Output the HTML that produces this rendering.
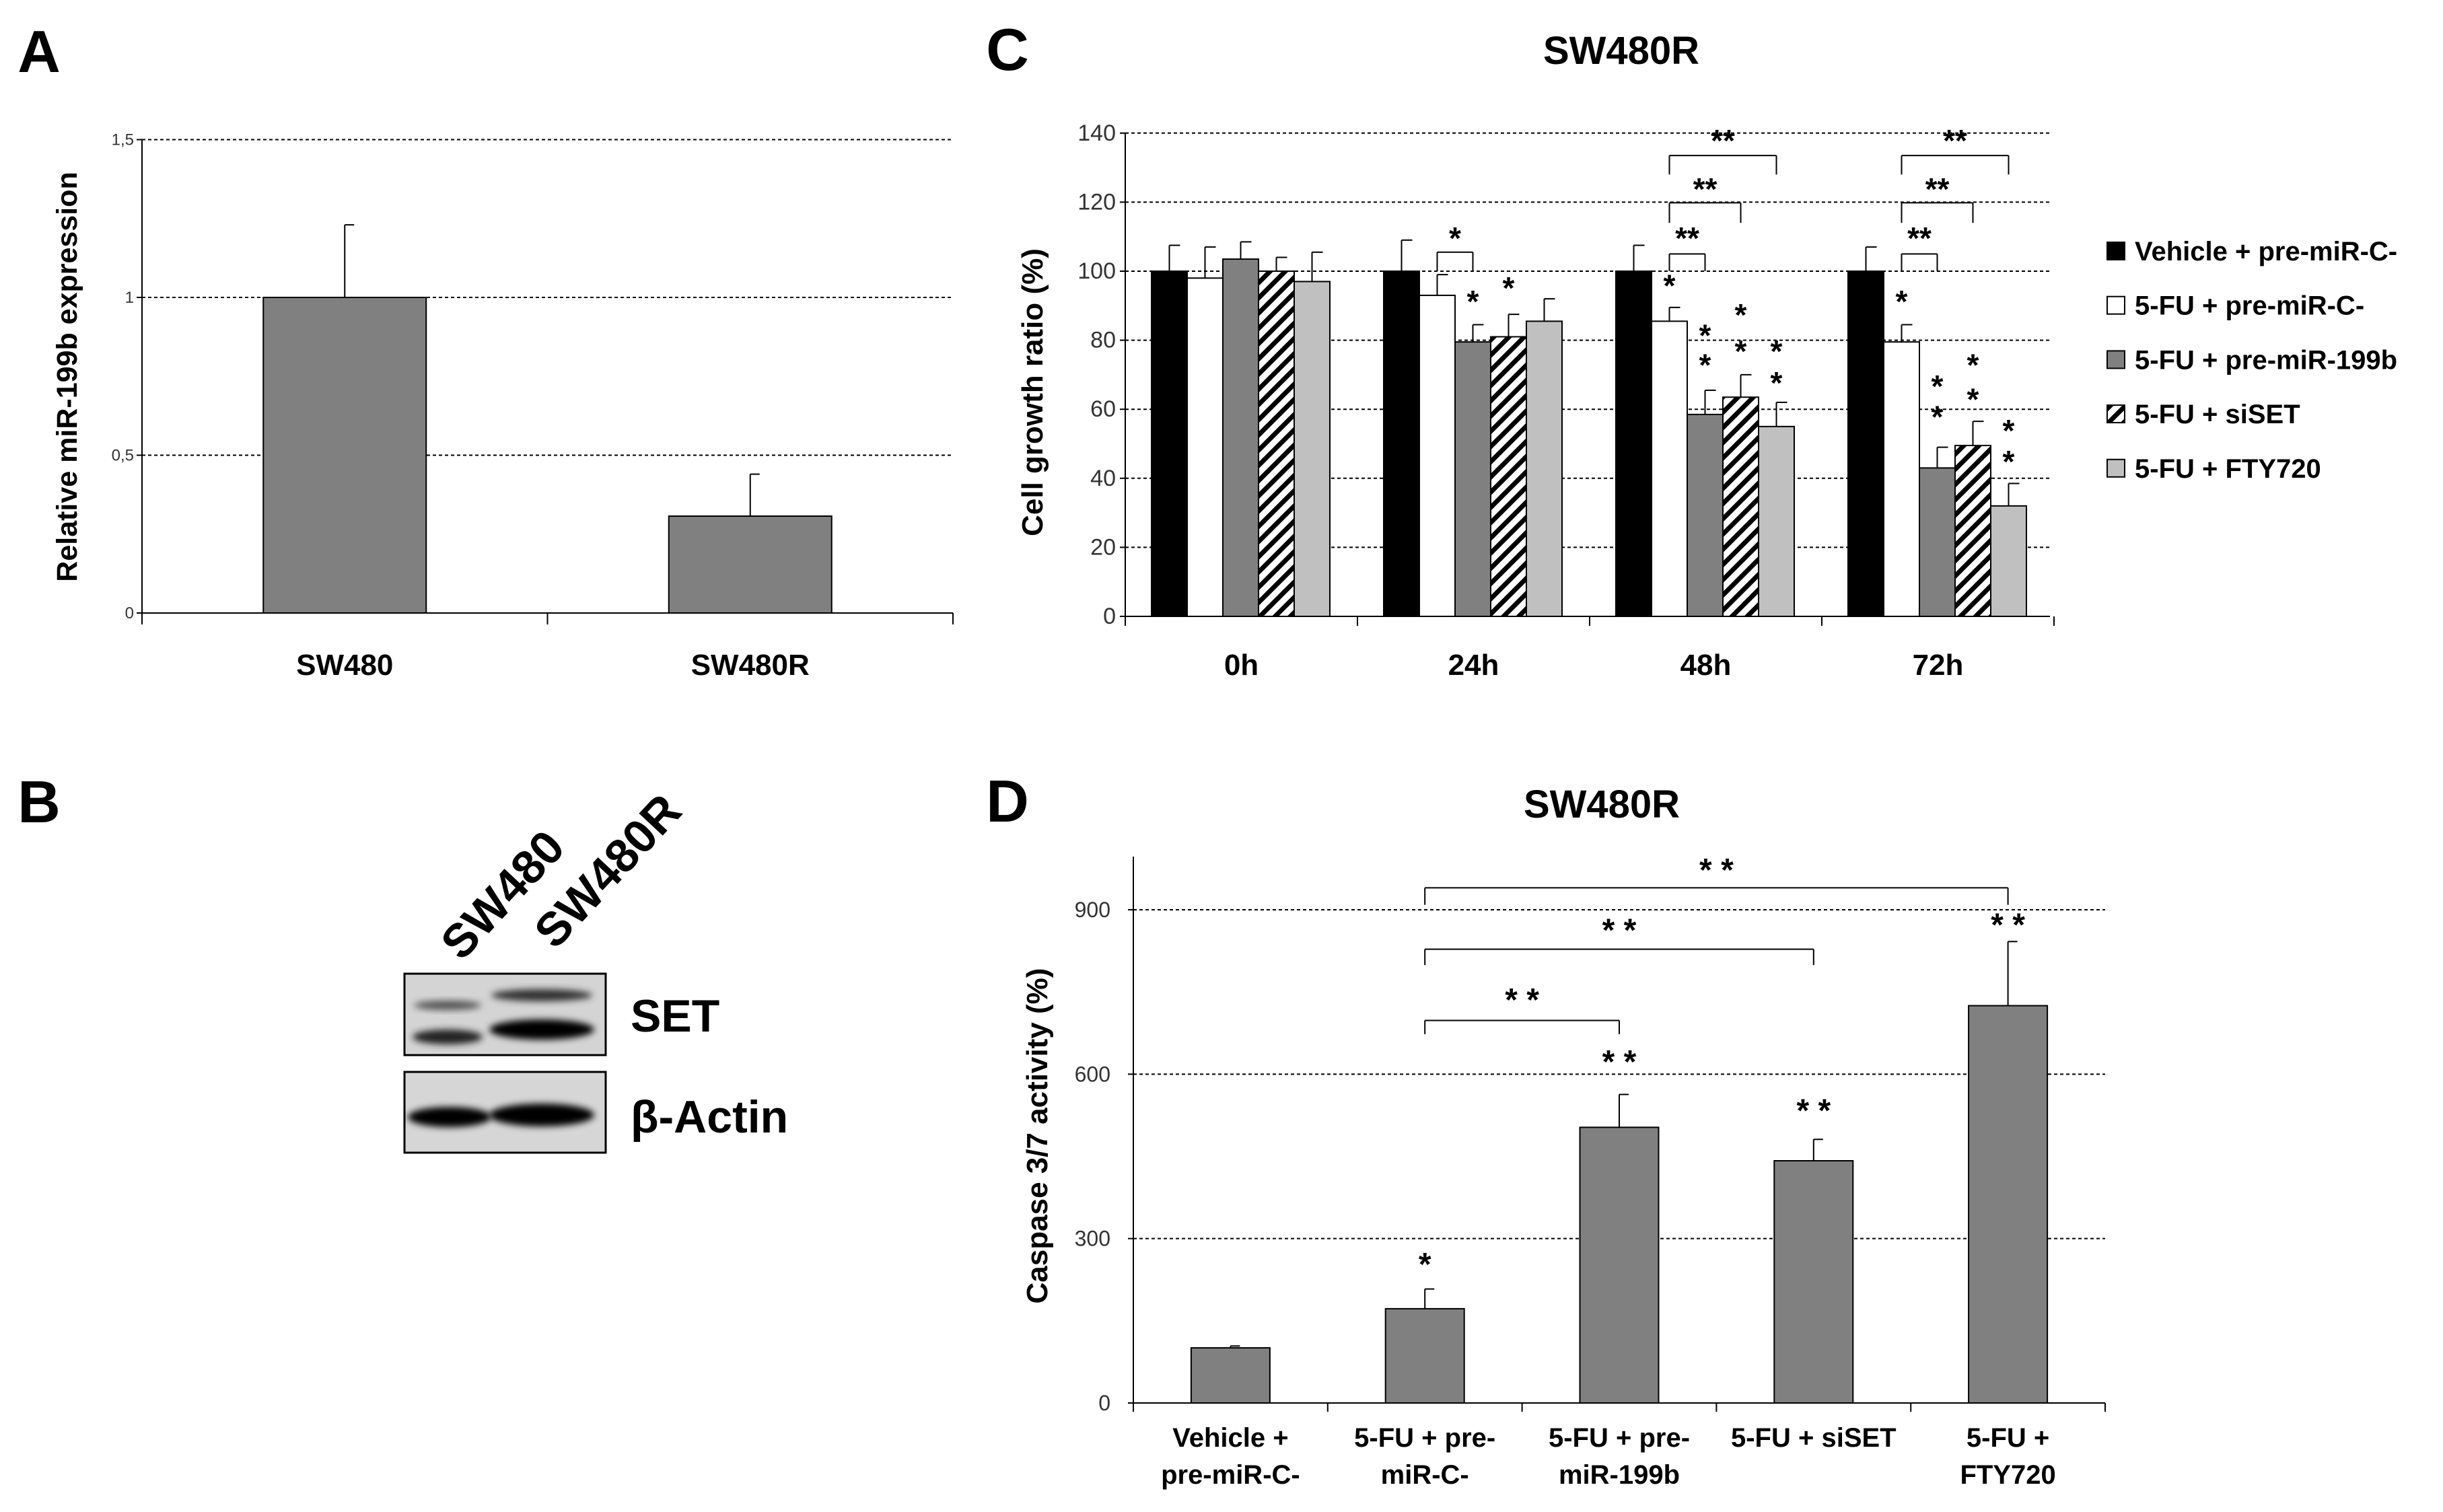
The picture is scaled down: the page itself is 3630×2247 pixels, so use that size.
<!DOCTYPE html>
<html><head><meta charset="utf-8"><style>
html,body{margin:0;padding:0;background:#fff}
svg{display:block}
text{font-family:"Liberation Sans Narrow","Liberation Sans",sans-serif}
</style></head><body>
<svg id="fig" width="3630" height="2247" viewBox="0 0 3630 2247" xmlns="http://www.w3.org/2000/svg">
<defs>
<pattern id="hatch" patternUnits="userSpaceOnUse" width="16" height="16" patternTransform="rotate(45)">
<rect width="16" height="16" fill="#fff"/><rect width="7" height="16" fill="#000"/>
</pattern>
<filter id="blur2" x="-20%" y="-50%" width="140%" height="200%"><feGaussianBlur stdDeviation="5"/></filter>
</defs>
</svg>
<script>
// ---- Panel A data ----
const aCats = ["SW480","SW480R"];
const aVals = [1.0, 0.307];
const aErr = [1.23, 0.44];
const aTicks = [0, 0.5, 1, 1.5];
const aTickLabels = ["0","0,5","1","1,5"];
// ---- Panel C data ----
const cGroups = ["0h","24h","48h","72h"];
const cSeries = ["Vehicle + pre-miR-C-","5-FU + pre-miR-C-","5-FU + pre-miR-199b","5-FU + siSET","5-FU + FTY720"];
const cVehicle = [100,100,100,100];
const cPreC = [98,93,85.5,79.5];
const cPre199 = [103.5,79.5,58.5,43];
const cSiSET = [100,81,63.5,49.5];
const cFTY = [97,85.5,55,32];
const cErrVehicle = [107.5,109,107.5,107];
const cErrPreC = [107,99,89.5,84.5];
const cErrPre199 = [108.5,84.5,65.5,49];
const cErrSiSET = [104,87.5,70,56.5];
const cErrFTY = [105.5,92,62,38.5];
const cTicks = [0,20,40,60,80,100,120,140];
// single-star annotations: [group, series, value]
const cStars = [[1,2,92.4],[1,3,96.3],[2,1,97],[2,2,82.6],[2,2,74],[2,3,88.5],[2,3,78],[2,4,78],[2,4,68.8],
  [3,1,92.4],[3,2,67.8],[3,2,59],[3,3,74],[3,3,64],[3,4,55],[3,4,46]];
// brackets: [group, fromSeries, toSeries, topValue, legValue, label, labelValue]
const cBrackets = [[1,1,2,105.5,100,"*",110.7],[2,1,2,105,100,"**",110.7],[2,1,3,119.8,114,"**",125],[2,1,4,133.5,128,"**",139],
  [3,1,2,105,100,"**",110.7],[3,1,3,119.8,114,"**",125],[3,1,4,133.5,128,"**",139]];
// ---- Panel D data ----
const dCatLine1 = ["Vehicle +","5-FU + pre-","5-FU + pre-","5-FU + siSET","5-FU +"];
const dCatLine2 = ["pre-miR-C-","miR-C-","miR-199b","","FTY720"];
const dVals = [100.6,172,503,442,725];
const dErr = [104,208,563,481,842];
const dTicks = [0,300,600,900];
const dMarks = ["","*","* *","* *","* *"];
const dMarkVals = [0,260,630,541,880];
// brackets: [from, to, top, leg, labelValue]
const dBrackets = [[1,2,698,673,743],[1,3,828,799,870],[1,4,940,909,980]];

const svg = document.getElementById('fig');
const NS = 'http://www.w3.org/2000/svg';
function mk(tag, attrs, name, parent){
  const el = document.createElementNS(NS, tag);
  for (const k in attrs) el.setAttribute(k, attrs[k]);
  
  
  (parent||svg).appendChild(el);
  return el;
}
function txt(x,y,s,size,name,opt){
  opt = opt||{};
  const t = mk('text',{x:x,y:y,'font-size':size,'font-weight':opt.w||'bold','text-anchor':opt.a||'middle',fill:opt.fill||'#000'},name);
  if (opt.rot!==undefined) t.setAttribute('transform','rotate('+opt.rot+' '+x+' '+y+')');
  if (opt.fam) t.setAttribute('style','font-family:'+opt.fam);
  t.textContent = s;
  return t;
}
function line(x1,y1,x2,y2,name,w,dash){
  const l = mk('line',{x1:x1,y1:y1,x2:x2,y2:y2,stroke:'#000','stroke-width':w||2},name);
  if (dash) l.setAttribute('stroke-dasharray',dash);
  return l;
}
const ARIAL = '"Liberation Sans",sans-serif';

// ===== Panel A =====
txt(58,107,"A",88,'panel-a-label',{fam:ARIAL});
const aX0=211, aX1=1416;
const yA = v => 911 - v*469;
aTicks.forEach((v,i)=>{
  if (v>0) line(aX0,yA(v),aX1,yA(v),'a-gridline',2,'5,4');
  line(aX0-8,yA(v),aX0,yA(v),'a-y-tick',2);
  txt(aX0-12,yA(v)+8,aTickLabels[i],24,'a-y-tick-label',{w:'normal',a:'end',fill:'#333'});
});
line(aX0,yA(1.5),aX0,928,'a-y-axis',2);
line(aX0,yA(0),aX1,yA(0),'a-x-axis',2);
const aW = (aX1-aX0)/aCats.length;
[0,1,2].forEach(i=>line(aX0+i*aW,yA(0),aX0+i*aW,928,'a-x-tick',2));
aCats.forEach((c,i)=>{
  const cx = aX0+aW*(i+0.5), bw=242;
  mk('rect',{x:cx-bw/2,y:yA(aVals[i]),width:bw,height:yA(0)-yA(aVals[i]),fill:'#808080',stroke:'#000','stroke-width':2},'a-bar-'+c.toLowerCase());
  line(cx,yA(aVals[i]),cx,yA(aErr[i]),'a-error-bar',2);
  line(cx,yA(aErr[i]),cx+14,yA(aErr[i]),'a-error-cap',2);
  txt(cx,1003,c,44,'a-x-label');
});
txt(114,560,"Relative miR-199b expression",43,'a-y-axis-title',{rot:-90,fam:ARIAL});

// ===== Panel B =====
txt(58,1222,"B",88,'panel-b-label',{fam:ARIAL});
txt(686,1430,"SW480",70,'b-lane-label-sw480',{a:'start',rot:-47,fam:ARIAL});
txt(825,1413,"SW480R",70,'b-lane-label-sw480r',{a:'start',rot:-47,fam:ARIAL});
mk('rect',{x:601,y:1447,width:299,height:121,fill:'#d4d4d4',stroke:'#000','stroke-width':3},'b-set-blot');
mk('rect',{x:601,y:1593,width:299,height:120,fill:'#d6d6d6',stroke:'#000','stroke-width':3},'b-actin-blot');
mk('ellipse',{cx:665,cy:1494,rx:50,ry:7,fill:'#555',filter:'url(#blur2)'},'b-set-band-upper-1');
mk('ellipse',{cx:805,cy:1479,rx:75,ry:9,fill:'#333',filter:'url(#blur2)'},'b-set-band-upper-2');
mk('ellipse',{cx:665,cy:1541,rx:52,ry:11,fill:'#222',filter:'url(#blur2)'},'b-set-band-lower-1');
mk('ellipse',{cx:805,cy:1530,rx:78,ry:15,fill:'#000',filter:'url(#blur2)'},'b-set-band-lower-2');
mk('ellipse',{cx:668,cy:1660,rx:62,ry:15,fill:'#000',filter:'url(#blur2)'},'b-actin-band-1');
mk('ellipse',{cx:805,cy:1657,rx:78,ry:17,fill:'#000',filter:'url(#blur2)'},'b-actin-band-2');
txt(937,1533,"SET",68,'b-set-label',{a:'start',fam:ARIAL});
txt(937,1683,"β-Actin",68,'b-actin-label',{a:'start',fam:ARIAL});

// ===== Panel C =====
txt(1497,104,"C",88,'panel-c-label',{fam:ARIAL});
txt(2409,95,"SW480R",58,'c-title');
const cX0=1672, cX1=3046, gW=345, bW=53;
const yC = v => 916 - v*5.13;
cTicks.forEach(v=>{
  if (v>0) line(cX0,yC(v),cX1,yC(v),'c-gridline',2,'5,4');
  line(cX0-8,yC(v),cX0,yC(v),'c-y-tick',2);
  txt(cX0-14,yC(v)+11,String(v),34,'c-y-tick-label',{w:'normal',a:'end',fill:'#333'});
});
line(cX0,yC(140),cX0,930,'c-y-axis',2);
line(cX0,yC(0),cX1,yC(0),'c-x-axis',2);
[0,1,2,3,4].forEach(i=>line(cX0+i*gW,yC(0),cX0+i*gW,930,'c-x-tick',2));
const cVals=[cVehicle,cPreC,cPre199,cSiSET,cFTY];
const cErrs=[cErrVehicle,cErrPreC,cErrPre199,cErrSiSET,cErrFTY];
const cFills=['#000','#fff','#808080','url(#hatch)','#c0c0c0'];
const bx = (g,s) => cX0+g*gW+39+s*bW;
cGroups.forEach((g,gi)=>{
  cSeries.forEach((s,si)=>{
    const v=cVals[si][gi], e=cErrs[si][gi], x=bx(gi,si);
    mk('rect',{x:x,y:yC(v),width:bW,height:yC(0)-yC(v),fill:cFills[si],stroke:'#000','stroke-width':2},'c-bar');
    line(x+bW/2,yC(v),x+bW/2,yC(e),'c-error-bar',2);
    line(x+bW/2,yC(e),x+bW/2+16,yC(e),'c-error-cap',2);
  });
  txt(cX0+gW*(gi+0.5),1003,g,44,'c-x-label');
});
cStars.forEach(st=>{
  txt(bx(st[0],st[1])+bW/2,yC(st[2])+22,"*",46,'c-significance-star');
});
cBrackets.forEach(b=>{
  const x1=bx(b[0],b[1])+bW/2, x2=bx(b[0],b[2])+bW/2;
  line(x1,yC(b[3]),x2,yC(b[3]),'c-bracket',2);
  line(x1,yC(b[3]),x1,yC(b[4]),'c-bracket-leg',2);
  line(x2,yC(b[3]),x2,yC(b[4]),'c-bracket-leg',2);
  txt((x1+x2)/2,yC(b[6])+22,b[5],46,'c-bracket-label');
});
txt(1549,583,"Cell growth ratio (%)",44,'c-y-axis-title',{rot:-90,fam:ARIAL});
cSeries.forEach((s,i)=>{
  const y=373+i*80.7;
  mk('rect',{x:3131,y:y-13,width:26,height:26,fill:cFills[i],stroke:'#000','stroke-width':2},'c-legend-swatch');
  txt(3172,y+14,s,40,'c-legend-entry',{a:'start'});
});

// ===== Panel D =====
txt(1497,1221,"D",88,'panel-d-label',{fam:ARIAL});
txt(2380,1215,"SW480R",58,'d-title');
const dX0=1684, dX1=3128, cw=(dX1-dX0)/5, dBW=117;
const yD = v => 2085 - v*(733/900);
dTicks.forEach(v=>{
  if (v>0) line(dX0,yD(v),dX1,yD(v),'d-gridline',2,'5,4');
  line(dX0-8,yD(v),dX0,yD(v),'d-y-tick',2);
  txt(dX0-34,yD(v)+11,String(v),32,'d-y-tick-label',{w:'normal',a:'end',fill:'#333'});
});
line(dX0,1273,dX0,2098,'d-y-axis',2);
line(dX0,yD(0),dX1,yD(0),'d-x-axis',2);
[0,1,2,3,4,5].forEach(i=>line(dX0+i*cw,yD(0),dX0+i*cw,2098,'d-x-tick',2));
const dcx = i => dX0+cw*(i+0.5);
dVals.forEach((v,i)=>{
  const cx=dcx(i);
  mk('rect',{x:cx-dBW/2,y:yD(v),width:dBW,height:yD(0)-yD(v),fill:'#808080',stroke:'#000','stroke-width':2},'d-bar');
  line(cx,yD(v),cx,yD(dErr[i]),'d-error-bar',2);
  line(cx,yD(dErr[i]),cx+14,yD(dErr[i]),'d-error-cap',2);
  if (dMarks[i]) txt(cx,yD(dMarkVals[i])+22,dMarks[i],48,'d-significance-star');
  txt(cx,2150,dCatLine1[i],40,'d-x-label');
  if (dCatLine2[i]) txt(cx,2205,dCatLine2[i],40,'d-x-label');
});
dBrackets.forEach(b=>{
  const x1=dcx(b[0]), x2=dcx(b[1]);
  line(x1,yD(b[2]),x2,yD(b[2]),'d-bracket',2);
  line(x1,yD(b[2]),x1,yD(b[3]),'d-bracket-leg',2);
  line(x2,yD(b[2]),x2,yD(b[3]),'d-bracket-leg',2);
  txt((x1+x2)/2,yD(b[4])+22,"* *",48,'d-bracket-label');
});
txt(1556,1688,"Caspase 3/7 activity (%)",44,'d-y-axis-title',{rot:-90,fam:ARIAL});
</script>
</body></html>
